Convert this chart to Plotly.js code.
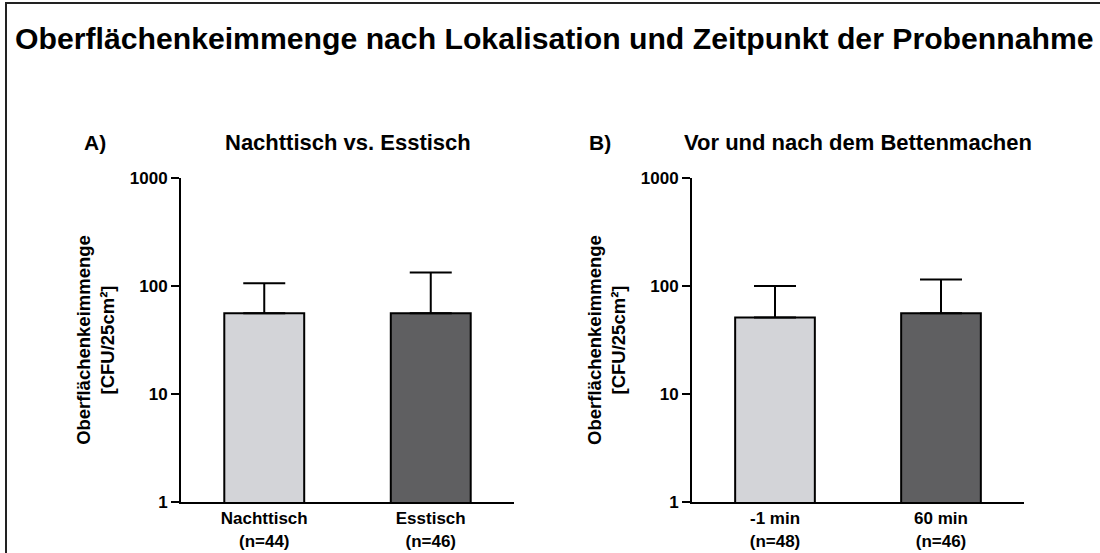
<!DOCTYPE html>
<html>
<head>
<meta charset="utf-8">
<script src="https://cdn.plot.ly/plotly-3.0.1.min.js"></script>
<style>
  html, body { margin: 0; padding: 0; background: #fff; }
  #chart { width: 1100px; height: 553px; }
</style>
</head>
<body>
<div id="chart"></div>
<script>
// Panel A
const catsA = ["Nachttisch<br>(n=44)", "Esstisch<br>(n=46)"];
const meanA = [56, 56];
const upperA = [106, 133];
// Panel B
const catsB = ["-1 min<br>(n=48)", "60 min<br>(n=46)"];
const meanB = [51, 56];
const upperB = [100, 115];

const barColors = ["#d3d4d8", "#5f5f61"];
const yTickVals = [1, 10, 100, 1000];
const yTickText = ["1", "10", "100", "1000"];

const FONT = "Arial, 'Liberation Sans', sans-serif";

function barTrace(cats, means, uppers, xa, ya) {
  return {
    type: "bar",
    x: cats,
    y: means,
    xaxis: xa,
    yaxis: ya,
    width: 0.48,
    marker: { color: barColors, line: { color: "#000", width: 2 } },
    error_y: {
      type: "data",
      symmetric: false,
      array: uppers.map((u, i) => u - means[i]),
      arrayminus: means.map(() => 0),
      color: "#000",
      thickness: 2,
      width: 21
    },
    hoverinfo: "skip"
  };
}

const data = [
  barTrace(catsA, meanA, upperA, "x", "y"),
  barTrace(catsB, meanB, upperB, "x2", "y2")
];

function xAx(domain) {
  return {
    domain: domain,
    type: "category",
    range: [-0.5, 1.5],
    showline: true,
    linecolor: "#000",
    linewidth: 2,
    ticks: "",
    showgrid: false,
    zeroline: false,
    tickfont: { family: FONT, size: 17, color: "#000", weight: "bold" },
    fixedrange: true
  };
}
function yAx(anchor) {
  return {
    anchor: anchor,
    domain: [1 - 502 / 553, 1 - 178 / 553],
    type: "log",
    range: [0, 3],
    tickvals: yTickVals,
    ticktext: yTickText,
    ticks: "outside",
    ticklen: 8,
    tickwidth: 2,
    tickcolor: "#000",
    showline: true,
    linecolor: "#000",
    linewidth: 2,
    showgrid: false,
    zeroline: false,
    tickfont: { family: FONT, size: 17, color: "#000", weight: "bold" },
    title: {
      text: "Oberflächenkeimmenge<br>[CFU/25cm²]",
      font: { family: FONT, size: 18.5, color: "#000", weight: "bold" },
      standoff: 10
    },
    fixedrange: true
  };
}

const layout = {
  width: 1100,
  height: 553,
  margin: { l: 0, r: 0, t: 0, b: 0 },
  paper_bgcolor: "#fff",
  plot_bgcolor: "#fff",
  showlegend: false,
  xaxis: Object.assign(xAx([181 / 1100, 514 / 1100]), { anchor: "y" }),
  yaxis: yAx("x"),
  xaxis2: Object.assign(xAx([692 / 1100, 1024 / 1100]), { anchor: "y2" }),
  yaxis2: yAx("x2"),
  annotations: [
    { text: "Oberflächenkeimmenge nach Lokalisation und Zeitpunkt der Probennahme",
      xref: "paper", yref: "paper", x: 13 / 1100, y: 1 - 38 / 553, xanchor: "left", yanchor: "middle",
      showarrow: false, font: { family: FONT, size: 30.2, color: "#000", weight: "bold" } },
    { text: "A)", xref: "paper", yref: "paper", x: 95 / 1100, y: 1 - 143 / 553,
      xanchor: "center", yanchor: "middle", showarrow: false,
      font: { family: FONT, size: 21, color: "#000", weight: "bold" } },
    { text: "Nachttisch vs. Esstisch", xref: "paper", yref: "paper", x: 347.5 / 1100, y: 1 - 143 / 553,
      xanchor: "center", yanchor: "middle", showarrow: false,
      font: { family: FONT, size: 22, color: "#000", weight: "bold" } },
    { text: "B)", xref: "paper", yref: "paper", x: 600 / 1100, y: 1 - 143 / 553,
      xanchor: "center", yanchor: "middle", showarrow: false,
      font: { family: FONT, size: 21, color: "#000", weight: "bold" } },
    { text: "Vor und nach dem Bettenmachen", xref: "paper", yref: "paper", x: 858 / 1100, y: 1 - 143 / 553,
      xanchor: "center", yanchor: "middle", showarrow: false,
      font: { family: FONT, size: 22, color: "#000", weight: "bold" } }
  ],
  shapes: [
    { type: "line", xref: "paper", yref: "paper", x0: 6 / 1100, x1: 1, y0: 1 - 3 / 553, y1: 1 - 3 / 553,
      line: { color: "#222", width: 2 } },
    { type: "line", xref: "paper", yref: "paper", x0: 6 / 1100, x1: 6 / 1100, y0: 1 - 2 / 553, y1: 0,
      line: { color: "#222", width: 2 } }
  ]
};

Plotly.newPlot("chart", data, layout, { displayModeBar: false, staticPlot: true });
</script>
</body>
</html>
